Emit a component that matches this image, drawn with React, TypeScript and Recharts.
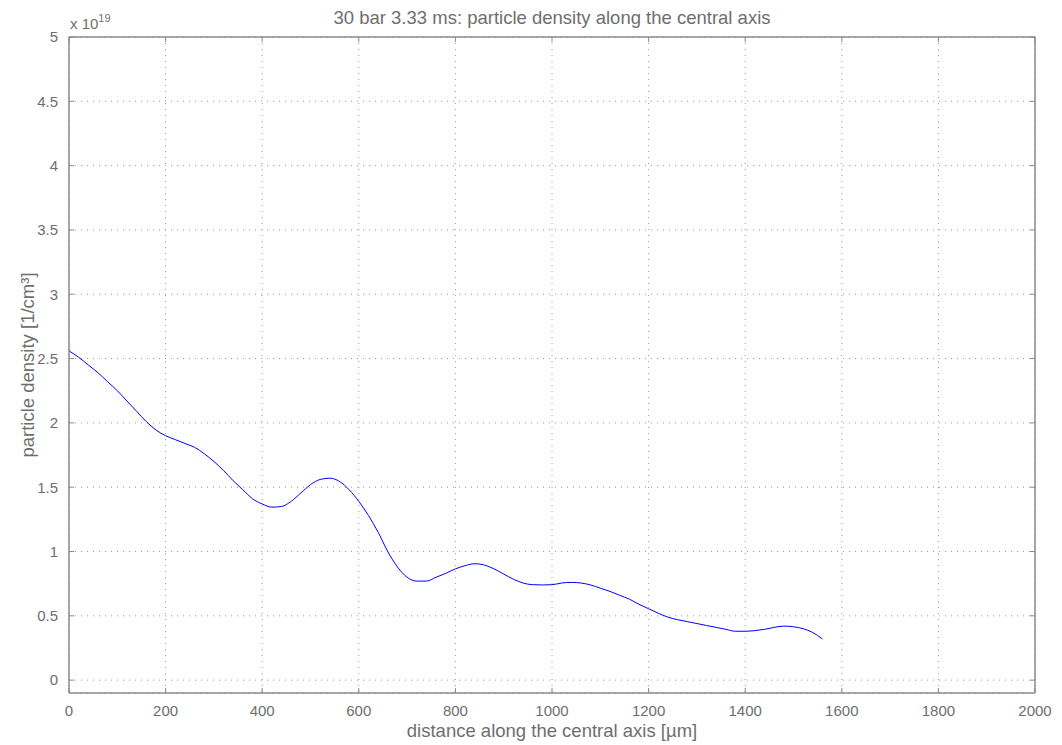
import React from "react";
import {
  LineChart,
  Line,
  XAxis,
  YAxis,
  CartesianGrid,
  ReferenceArea,
} from "recharts";

// distance along the axis in µm, sampled every 20 µm
const DISTANCE = [
  0, 20, 40, 60, 80, 100, 120, 140, 160, 180, 200, 220, 240, 260, 280, 300,
  320, 340, 360, 380, 400, 420, 440, 460, 480, 500, 520, 540, 560, 580, 600,
  620, 640, 660, 680, 700, 720, 740, 760, 780, 800, 820, 840, 860, 880, 900,
  920, 940, 960, 980, 1000, 1020, 1040, 1060, 1080, 1100, 1120, 1140, 1160,
  1180, 1200, 1220, 1240, 1260, 1280, 1300, 1320, 1340, 1360, 1380, 1400,
  1420, 1440, 1460, 1480, 1500, 1520, 1540, 1560,
];

// particle density in units of 1e19 / cm^3
const DENSITY = [
  2.56, 2.51, 2.45, 2.39, 2.32, 2.25, 2.17, 2.09, 2.01, 1.945, 1.9, 1.87, 1.84,
  1.81, 1.76, 1.7, 1.63, 1.55, 1.48, 1.41, 1.37, 1.345, 1.35, 1.39, 1.455,
  1.52, 1.56, 1.57, 1.545, 1.48, 1.39, 1.28, 1.15, 1.0, 0.88, 0.8, 0.77, 0.77,
  0.8, 0.83, 0.865, 0.89, 0.905, 0.895, 0.865, 0.825, 0.785, 0.755, 0.742,
  0.74, 0.742, 0.755, 0.76, 0.755, 0.74, 0.715, 0.69, 0.66, 0.63, 0.59, 0.555,
  0.52, 0.49, 0.47, 0.455, 0.44, 0.425, 0.41, 0.395, 0.38, 0.38, 0.385, 0.395,
  0.41, 0.42, 0.415, 0.4, 0.37, 0.32,
];

const X_TICKS = [0, 200, 400, 600, 800, 1000, 1200, 1400, 1600, 1800, 2000];
const Y_TICKS = [0, 0.5, 1, 1.5, 2, 2.5, 3, 3.5, 4, 4.5, 5];

const TITLE = "30 bar 3.33 ms: particle density along the central axis";
const X_LABEL = "distance along the central axis [µm]";
const Y_LABEL = "particle density [1/cm³]";

const W = 1062;
const H = 745;
const FONT = "'Liberation Sans', Arial, Helvetica, sans-serif";
const AXIS = "#8a8a8a";
const TEXT = "#6e6e6e";
const TICK_LEN = 5;
const X_GAP = 12;
const Y_GAP = 11;

const data = DISTANCE.map((d, i) => ({ d, n: DENSITY[i] }));

// matlab-style ticks: label outside, short mark pointing into the plot
const BottomTick = (props: any) => {
  const { x, y, payload } = props;
  const base = y - X_GAP;
  return (
    <g>
      <line x1={x} x2={x} y1={base} y2={base - TICK_LEN} stroke={AXIS} />
      <text x={x} y={y} dy="0.71em" textAnchor="middle" fontSize={15} fill={TEXT} fontFamily={FONT}>
        {payload.value}
      </text>
    </g>
  );
};

const LeftTick = (props: any) => {
  const { x, y, payload } = props;
  const base = x + Y_GAP;
  return (
    <g>
      <line x1={base} x2={base + TICK_LEN} y1={y} y2={y} stroke={AXIS} />
      <text x={x} y={y} dy="0.355em" textAnchor="end" fontSize={15} fill={TEXT} fontFamily={FONT}>
        {payload.value}
      </text>
    </g>
  );
};

const TopTick = (props: any) => {
  const { x, y } = props;
  return <line x1={x} x2={x} y1={y} y2={y + TICK_LEN} stroke={AXIS} />;
};

const RightTick = (props: any) => {
  const { x, y } = props;
  return <line x1={x} x2={x - TICK_LEN} y1={y} y2={y} stroke={AXIS} />;
};

export default function App() {
  return (
    <div
      style={{
        position: "absolute",
        left: 0,
        top: 0,
        width: W,
        height: H,
        background: "#fff",
        fontFamily: FONT,
        color: TEXT,
      }}
    >
      <LineChart
        width={W}
        height={H}
        data={data}
        margin={{ top: 36, right: 26, bottom: 0, left: 0 }}
      >
        <CartesianGrid stroke="#9a9a9a" strokeDasharray="1 5" />
        <XAxis
          dataKey="d"
          type="number"
          domain={[0, 2000]}
          ticks={X_TICKS}
          height={52}
          stroke={AXIS}
          tickLine={false}
          tickSize={0}
          tickMargin={X_GAP}
          tick={<BottomTick />}
          interval={0}
        />
        <XAxis
          xAxisId="top"
          orientation="top"
          dataKey="d"
          type="number"
          domain={[0, 2000]}
          ticks={X_TICKS}
          height={1}
          stroke={AXIS}
          tickLine={false}
          tickSize={0}
          tickMargin={0}
          tick={<TopTick />}
          interval={0}
        />
        <YAxis
          type="number"
          domain={[-0.1, 5]}
          ticks={Y_TICKS}
          width={69}
          stroke={AXIS}
          tickLine={false}
          tickSize={0}
          tickMargin={Y_GAP}
          tick={<LeftTick />}
          interval={0}
          allowDataOverflow
        />
        <YAxis
          yAxisId="right"
          orientation="right"
          type="number"
          domain={[-0.1, 5]}
          ticks={Y_TICKS}
          width={1}
          stroke={AXIS}
          tickLine={false}
          tickSize={0}
          tickMargin={0}
          tick={<RightTick />}
          interval={0}
          allowDataOverflow
        />
        <ReferenceArea
          x1={0}
          x2={2000}
          y1={-0.1}
          y2={5}
          fill="none"
          stroke={AXIS}
          strokeWidth={1}
        />
        <Line
          dataKey="n"
          type="monotone"
          stroke="#0000ff"
          strokeWidth={1}
          dot={false}
          isAnimationActive={false}
        />
      </LineChart>

      <div
        style={{
          position: "absolute",
          left: 552,
          top: 18,
          transform: "translate(-50%, -50%)",
          fontSize: 18.5,
          whiteSpace: "nowrap",
        }}
      >
        {TITLE}
      </div>
      <div
        style={{
          position: "absolute",
          left: 552,
          top: 731,
          transform: "translate(-50%, -50%)",
          fontSize: 18.5,
          whiteSpace: "nowrap",
        }}
      >
        {X_LABEL}
      </div>
      <div
        style={{
          position: "absolute",
          left: 28,
          top: 365,
          transform: "translate(-50%, -50%) rotate(-90deg)",
          fontSize: 18.5,
          whiteSpace: "nowrap",
        }}
      >
        {Y_LABEL}
      </div>
      <div
        style={{
          position: "absolute",
          left: 70,
          top: 9,
          fontSize: 15,
          lineHeight: "20px",
          whiteSpace: "nowrap",
        }}
      >
        x 10
        <sup style={{ fontSize: 11, position: "relative", top: -1 }}>19</sup>
      </div>
    </div>
  );
}
